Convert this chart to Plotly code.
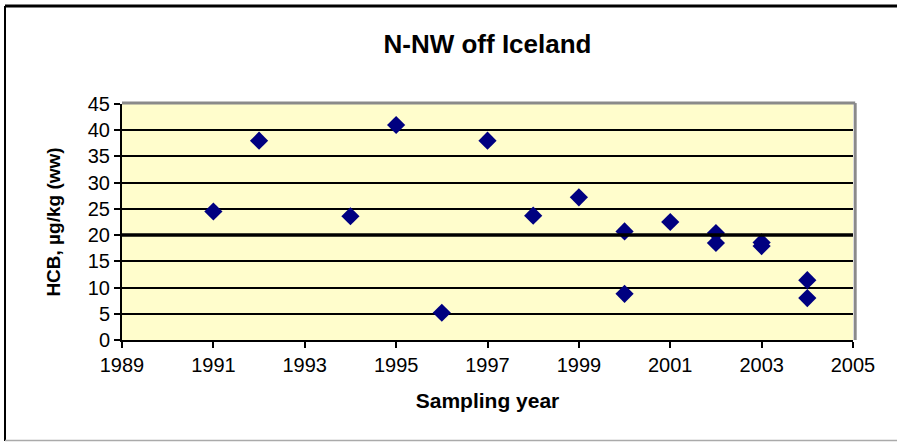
import plotly.graph_objects as go

years = [1991, 1992, 1994, 1995, 1996, 1997, 1998, 1999, 2000, 2000, 2001, 2002, 2002, 2003, 2003, 2004, 2004]
hcb = [24.5, 38.0, 23.6, 41.0, 5.2, 38.0, 23.7, 27.2, 20.7, 8.8, 22.5, 20.4, 18.5, 18.6, 17.9, 11.4, 8.0]

x_ticks = list(range(1989, 2006, 2))
y_ticks = list(range(0, 46, 5))

fig = go.Figure()
fig.add_trace(go.Scatter(
    x=years, y=hcb, mode="markers",
    marker=dict(symbol="diamond", size=14, color="#000080", line=dict(width=0)),
    showlegend=False, cliponaxis=False,
))

W, H = 897, 442
L, R, T, B = 122, 44, 104, 102
pw, ph = W - L - R, H - T - B

def px(xp):
    return (xp - L) / pw

def py(yp):
    return (H - B - yp) / ph

fig.update_layout(
    width=W, height=H,
    margin=dict(l=L, r=R, t=T, b=B),
    paper_bgcolor="white",
    plot_bgcolor="#FFFDCC",
    font=dict(family="Liberation Sans, Arial, sans-serif", color="black"),
    title=dict(text="<b>N-NW off Iceland</b>", x=0.5, xref="paper", xanchor="center",
               y=1 - 44 / H, yanchor="middle", font=dict(size=26)),
    xaxis=dict(
        range=[1989, 2005], tickvals=x_ticks, ticktext=[str(v) for v in x_ticks],
        showgrid=False, zeroline=False, showline=True, linecolor="black", linewidth=2,
        ticks="outside", ticklen=6, tickwidth=2, tickcolor="black",
        tickfont=dict(size=20),
        title=dict(text="<b>Sampling year</b>", font=dict(size=21), standoff=18),
    ),
    yaxis=dict(
        range=[0, 45], tickvals=y_ticks,
        showgrid=True, gridcolor="black", gridwidth=1.5, zeroline=False,
        showline=True, linecolor="black", linewidth=2,
        ticks="outside", ticklen=6, tickwidth=2, tickcolor="black",
        tickfont=dict(size=20),
        title=dict(text="<b>HCB, µg/kg (ww)</b>", font=dict(size=19), standoff=22),
    ),
    shapes=[
        # thicker 20 line
        dict(type="line", xref="paper", yref="y", x0=0, x1=1, y0=20, y1=20,
             line=dict(color="black", width=3.5), layer="above"),
        # gray frame top and right
        dict(type="line", xref="paper", yref="paper", x0=0, x1=1.003, y0=1.004, y1=1.004,
             line=dict(color="#8a8a8a", width=3)),
        dict(type="line", xref="paper", yref="paper", x0=1.003, x1=1.003, y0=0, y1=1.004,
             line=dict(color="#8a8a8a", width=3)),
        # outer chart border
        dict(type="line", xref="paper", yref="paper", x0=px(5), x1=px(897), y0=py(6), y1=py(6),
             line=dict(color="black", width=3)),
        dict(type="line", xref="paper", yref="paper", x0=px(5), x1=px(5), y0=py(6), y1=py(441),
             line=dict(color="black", width=2)),
        dict(type="line", xref="paper", yref="paper", x0=px(5), x1=px(897), y0=py(440.5), y1=py(440.5),
             line=dict(color="#aaaaaa", width=1.5)),
    ],
)

fig.write_html("out.html", config={"displayModeBar": False},
               post_script="document.body.style.margin='0px';document.body.style.overflow='hidden';")
